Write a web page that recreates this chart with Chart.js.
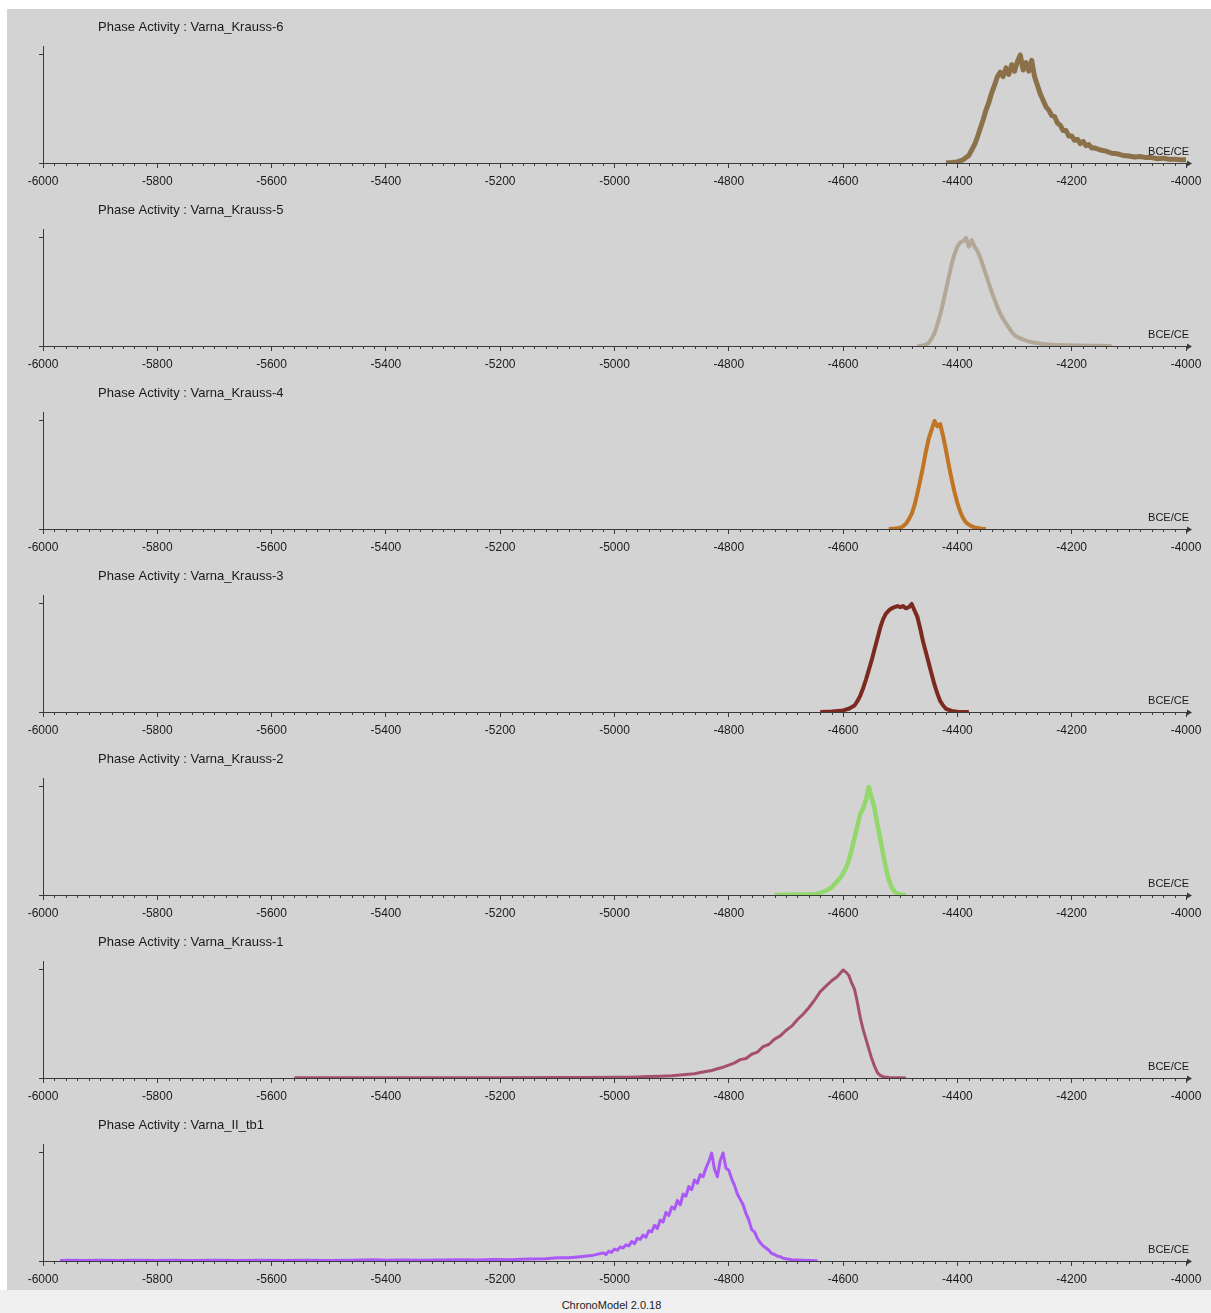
<!DOCTYPE html>
<html>
<head>
<meta charset="utf-8">
<script src="https://cdn.jsdelivr.net/npm/chart.js@4.4.0/dist/chart.umd.min.js"></script>
<style>
    body { margin: 0; background: #fff; width: 1211px; height: 1313px; overflow: hidden; position: relative; }
    #plots { position: absolute; left: 7px; top: 9px; width: 1204px; height: 1281px; background: #d3d3d3; }
    .panel { position: absolute; left: 0; width: 1204px; height: 183px; }
    #footer { position: absolute; left: 0; top: 1290px; width: 1211px; height: 23px; background: #f0f0f0;
              font: 11px "Liberation Sans", sans-serif; color: #222; text-align: center; line-height: 30px; padding-left: 12px; box-sizing: border-box; }
</style>
</head>
<body>
<div id="plots"></div>
<div id="footer">ChronoModel 2.0.18</div>
<script>
// Axis range and tick labels
const xMin = -6000;
const xMax = -4000;
const majorStep = 200;
const minorStep = 20;
const axisLabel = 'BCE/CE';

// Phase Activity : Varna_Krauss-6
const k6Years = [-4420, -4410, -4400, -4395, -4390, -4385, -4380, -4375, -4370, -4365, -4360, -4355, -4350, -4345, -4340, -4335, -4330, -4325, -4320, -4315, -4310, -4305, -4300, -4295, -4290, -4285, -4280, -4275, -4270, -4265, -4260, -4255, -4250, -4245, -4240, -4235, -4230, -4225, -4220, -4215, -4210, -4205, -4200, -4195, -4190, -4185, -4180, -4175, -4170, -4165, -4160, -4150, -4140, -4130, -4120, -4110, -4100, -4090, -4080, -4070, -4060, -4050, -4040, -4030, -4020, -4010, -4000];
const k6Vals = [0, 0.004, 0.01, 0.02, 0.03, 0.05, 0.07, 0.12, 0.17, 0.24, 0.32, 0.40, 0.49, 0.56, 0.65, 0.72, 0.80, 0.84, 0.80, 0.88, 0.82, 0.91, 0.85, 0.94, 1.0, 0.86, 0.93, 0.85, 0.95, 0.80, 0.72, 0.64, 0.58, 0.52, 0.49, 0.44, 0.43, 0.37, 0.35, 0.30, 0.30, 0.25, 0.25, 0.21, 0.22, 0.18, 0.20, 0.16, 0.17, 0.14, 0.14, 0.12, 0.11, 0.09, 0.085, 0.07, 0.065, 0.055, 0.06, 0.05, 0.05, 0.04, 0.045, 0.035, 0.035, 0.03, 0.03];

// Phase Activity : Varna_Krauss-5
const k5Years = [-4470, -4460, -4455, -4450, -4445, -4440, -4435, -4430, -4425, -4420, -4415, -4410, -4405, -4400, -4395, -4390, -4385, -4380, -4375, -4370, -4365, -4360, -4355, -4350, -4345, -4340, -4335, -4330, -4325, -4320, -4315, -4310, -4305, -4300, -4290, -4280, -4270, -4260, -4250, -4240, -4230, -4210, -4190, -4160, -4130];
const k5Vals = [0, 0.005, 0.012, 0.03, 0.07, 0.12, 0.20, 0.29, 0.40, 0.52, 0.64, 0.76, 0.85, 0.92, 0.96, 0.97, 1.0, 0.92, 0.98, 0.92, 0.88, 0.82, 0.74, 0.66, 0.58, 0.50, 0.43, 0.36, 0.30, 0.25, 0.21, 0.17, 0.13, 0.10, 0.07, 0.05, 0.035, 0.025, 0.018, 0.013, 0.01, 0.006, 0.004, 0.002, 0];

// Phase Activity : Varna_Krauss-4
const k4Years = [-4520, -4515, -4510, -4505, -4500, -4495, -4490, -4485, -4480, -4475, -4470, -4465, -4460, -4455, -4450, -4445, -4440, -4435, -4430, -4425, -4420, -4415, -4410, -4405, -4400, -4395, -4390, -4385, -4380, -4375, -4370, -4365, -4360, -4355, -4350];
const k4Vals = [0, 0.002, 0.004, 0.007, 0.012, 0.025, 0.05, 0.09, 0.14, 0.22, 0.33, 0.45, 0.58, 0.72, 0.84, 0.92, 1.0, 0.95, 0.97, 0.86, 0.73, 0.59, 0.46, 0.34, 0.24, 0.16, 0.10, 0.06, 0.04, 0.025, 0.015, 0.01, 0.005, 0.002, 0];

// Phase Activity : Varna_Krauss-3
const k3Years = [-4640, -4620, -4600, -4590, -4580, -4575, -4570, -4565, -4560, -4555, -4550, -4545, -4540, -4535, -4530, -4525, -4520, -4515, -4510, -4505, -4500, -4495, -4490, -4485, -4480, -4475, -4470, -4465, -4460, -4455, -4450, -4445, -4440, -4435, -4430, -4425, -4420, -4410, -4400, -4380];
const k3Vals = [0, 0.005, 0.015, 0.03, 0.06, 0.10, 0.15, 0.22, 0.30, 0.39, 0.48, 0.58, 0.68, 0.78, 0.86, 0.91, 0.94, 0.96, 0.97, 0.98, 0.97, 0.98, 0.96, 0.97, 1.0, 0.94, 0.88, 0.77, 0.65, 0.55, 0.45, 0.35, 0.25, 0.17, 0.10, 0.06, 0.03, 0.01, 0.003, 0];

// Phase Activity : Varna_Krauss-2
const k2Years = [-4720, -4700, -4680, -4660, -4650, -4645, -4640, -4635, -4630, -4625, -4620, -4615, -4610, -4605, -4600, -4595, -4590, -4585, -4580, -4575, -4570, -4565, -4560, -4555, -4550, -4545, -4540, -4535, -4530, -4525, -4520, -4515, -4510, -4505, -4500, -4495, -4490];
const k2Vals = [0, 0.002, 0.004, 0.006, 0.01, 0.014, 0.02, 0.03, 0.04, 0.055, 0.07, 0.10, 0.13, 0.16, 0.20, 0.25, 0.32, 0.42, 0.53, 0.64, 0.75, 0.80, 0.88, 1.0, 0.90, 0.80, 0.65, 0.52, 0.38, 0.25, 0.14, 0.07, 0.03, 0.012, 0.005, 0.002, 0];

// Phase Activity : Varna_Krauss-1
const k1Years = [-5560, -5500, -5400, -5300, -5200, -5100, -5050, -5000, -4980, -4960, -4940, -4920, -4900, -4880, -4860, -4850, -4840, -4830, -4820, -4810, -4800, -4790, -4780, -4770, -4760, -4750, -4740, -4730, -4720, -4710, -4700, -4690, -4680, -4670, -4660, -4650, -4640, -4630, -4620, -4610, -4600, -4595, -4590, -4585, -4580, -4575, -4570, -4565, -4560, -4555, -4550, -4545, -4540, -4535, -4530, -4520, -4500, -4490];
const k1Vals = [0.002, 0.002, 0.002, 0.003, 0.003, 0.004, 0.005, 0.006, 0.008, 0.01, 0.013, 0.016, 0.02, 0.03, 0.04, 0.05, 0.06, 0.07, 0.085, 0.10, 0.12, 0.14, 0.17, 0.18, 0.22, 0.24, 0.29, 0.31, 0.36, 0.39, 0.44, 0.48, 0.54, 0.59, 0.65, 0.72, 0.80, 0.85, 0.90, 0.94, 1.0, 0.98, 0.95, 0.88, 0.82, 0.70, 0.56, 0.45, 0.36, 0.27, 0.18, 0.11, 0.05, 0.025, 0.012, 0.005, 0.002, 0];

// Phase Activity : Varna_II_tb1
const tb1Years = [-5970, -5950, -5930, -5900, -5870, -5840, -5800, -5770, -5740, -5700, -5660, -5620, -5580, -5540, -5500, -5460, -5420, -5400, -5370, -5340, -5300, -5270, -5240, -5210, -5180, -5150, -5120, -5100, -5080, -5060, -5040, -5020, -5015, -5010, -5005, -5000, -4995, -4990, -4985, -4980, -4975, -4970, -4965, -4960, -4955, -4950, -4945, -4940, -4935, -4930, -4925, -4920, -4915, -4910, -4905, -4900, -4895, -4890, -4885, -4880, -4875, -4870, -4865, -4860, -4855, -4850, -4845, -4840, -4835, -4830, -4825, -4820, -4815, -4810, -4805, -4800, -4795, -4790, -4785, -4780, -4775, -4770, -4765, -4760, -4755, -4750, -4745, -4740, -4735, -4730, -4725, -4720, -4715, -4710, -4705, -4700, -4690, -4680, -4660, -4645];
const tb1Vals = [0.005, 0.008, 0.004, 0.006, 0.005, 0.007, 0.005, 0.006, 0.004, 0.006, 0.005, 0.007, 0.005, 0.006, 0.005, 0.007, 0.012, 0.008, 0.01, 0.008, 0.01, 0.012, 0.01, 0.013, 0.012, 0.018, 0.02, 0.03, 0.03, 0.04, 0.05, 0.075, 0.06, 0.09, 0.08, 0.11, 0.10, 0.13, 0.12, 0.15, 0.14, 0.18, 0.16, 0.21, 0.20, 0.24, 0.22, 0.28, 0.27, 0.33, 0.30, 0.38, 0.36, 0.45, 0.42, 0.50, 0.48, 0.56, 0.52, 0.62, 0.60, 0.69, 0.66, 0.75, 0.72, 0.80, 0.78, 0.86, 0.92, 1.0, 0.85, 0.78, 0.93, 1.0, 0.86, 0.84, 0.76, 0.70, 0.62, 0.57, 0.52, 0.44, 0.38, 0.29, 0.27, 0.21, 0.17, 0.14, 0.12, 0.10, 0.07, 0.06, 0.045, 0.04, 0.025, 0.02, 0.012, 0.01, 0.005, 0.002];

const axisColor = '#3a3a3a';
const textColor = '#1a1a1a';

// minor ticks, axis arrow, panel title and axis name
const decoPlugin = {
    id: 'deco',
    afterDraw(chart, args, opts) {
        const ctx = chart.ctx;
        const area = chart.chartArea;
        const xs = chart.scales.x;
        ctx.save();
        ctx.strokeStyle = axisColor;
        ctx.lineWidth = 1;
        ctx.beginPath();
        for (let v = xMin; v <= xMax; v += minorStep) {
            if (v % majorStep === 0) continue;
            const px = Math.round(xs.getPixelForValue(v)) + 0.5;
            ctx.moveTo(px, area.bottom);
            ctx.lineTo(px, area.bottom + 3);
        }
        ctx.stroke();
        // arrow head at the end of the time axis
        ctx.fillStyle = axisColor;
        ctx.beginPath();
        ctx.moveTo(area.right + 1, area.bottom - 2.5);
        ctx.lineTo(area.right + 6, area.bottom + 0.5);
        ctx.lineTo(area.right + 1, area.bottom + 3.5);
        ctx.closePath();
        ctx.fill();

        ctx.fillStyle = textColor;
        ctx.textBaseline = 'middle';
        ctx.font = '13px "Liberation Sans", Arial, sans-serif';
        ctx.textAlign = 'left';
        ctx.fillText(opts.title, 91, 17);
        ctx.font = '11px "Liberation Sans", Arial, sans-serif';
        ctx.textAlign = 'right';
        ctx.fillText(axisLabel, area.right + 3, area.bottom - 11);
        ctx.restore();
    }
};

function makePanel(index, title, years, vals, color, width) {
    const canvas = document.createElement('canvas');
    canvas.className = 'panel';
    canvas.width = 1204;
    canvas.height = 183;
    canvas.style.top = (1 + index * 183) + 'px';
    document.getElementById('plots').appendChild(canvas);

    new Chart(canvas.getContext('2d'), {
        type: 'line',
        data: {
            datasets: [{
                data: years.map((x, i) => ({ x: x, y: vals[i] })),
                borderColor: color,
                borderWidth: width,
                borderJoinStyle: 'round',
                pointRadius: 0,
                tension: 0,
                fill: false
            }]
        },
        options: {
            responsive: false,
            animation: false,
            devicePixelRatio: 1,
            layout: { padding: { top: 36, right: 25, left: 0, bottom: 0 } },
            plugins: {
                legend: { display: false },
                tooltip: { enabled: false },
                deco: { title: title }
            },
            scales: {
                x: {
                    type: 'linear',
                    min: xMin,
                    max: xMax,
                    afterFit: function(scale) { scale.height = 30; },
                    border: { color: axisColor, width: 1 },
                    grid: { drawOnChartArea: false, tickLength: 5, color: axisColor },
                    ticks: {
                        stepSize: majorStep,
                        autoSkip: false,
                        maxRotation: 0,
                        padding: 6,
                        color: textColor,
                        font: { family: '"Liberation Sans", Arial, sans-serif', size: 12 },
                        callback: function(value) { return String(value); }
                    }
                },
                y: {
                    min: 0,
                    max: 1.083,
                    afterFit: function(scale) { scale.width = 36; },
                    afterBuildTicks: function(scale) { scale.ticks = [{ value: 0 }, { value: 1 }]; },
                    border: { color: axisColor, width: 1 },
                    grid: { drawOnChartArea: false, tickLength: 4, color: axisColor },
                    ticks: { display: false }
                }
            }
        },
        plugins: [decoPlugin]
    });
}

makePanel(0, 'Phase Activity : Varna_Krauss-6', k6Years, k6Vals, '#8c7049', 5);
makePanel(1, 'Phase Activity : Varna_Krauss-5', k5Years, k5Vals, '#b3a797', 4);
makePanel(2, 'Phase Activity : Varna_Krauss-4', k4Years, k4Vals, '#c07424', 4);
makePanel(3, 'Phase Activity : Varna_Krauss-3', k3Years, k3Vals, '#7c2a20', 4);
makePanel(4, 'Phase Activity : Varna_Krauss-2', k2Years, k2Vals, '#92d86c', 4.5);
makePanel(5, 'Phase Activity : Varna_Krauss-1', k1Years, k1Vals, '#a5506b', 3);
makePanel(6, 'Phase Activity : Varna_II_tb1', tb1Years, tb1Vals, '#aa58f6', 3);
</script>
</body>
</html>
